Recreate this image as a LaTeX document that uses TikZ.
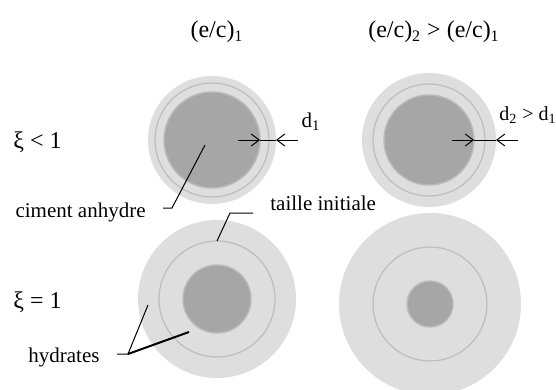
\documentclass[tikz,border=0pt]{standalone}
\usepackage{fontspec}
\setmainfont{Liberation Serif}
\usepackage{xcolor}
\usetikzlibrary{arrows.meta}
\definecolor{hydrgray}{HTML}{DEDEDE}
\definecolor{ringgray}{HTML}{BDBDBD}
\definecolor{coregray}{HTML}{A6A6A6}
\definecolor{coreedge}{HTML}{BABABA}

\begin{document}
\begin{tikzpicture}[
  x=0.5pt,y=-0.5pt,
  hull/.style={circle,fill=hydrgray,inner sep=0pt,outer sep=0pt},
  ring/.style={circle,draw=ringgray,line width=0.6pt,inner sep=0pt,outer sep=0pt},
  core/.style={circle,fill=coregray,draw=coreedge,line width=0.7pt,
               inner sep=0pt,outer sep=0pt},
  lbl/.style ={font=\fontsize{10.5}{12}\selectfont,inner sep=0pt},
  head/.style={font=\fontsize{12}{14}\selectfont,inner sep=0pt},
  lead/.style={line width=0.5pt},
  dim/.style ={-{Straight Barb[length=4pt,width=6pt]},line width=0.5pt}]
  \useasboundingbox (0,0) rectangle (556,390);
  \clip (0,0) rectangle (556,390);
  % grains, xi < 1
  \node[hull,minimum size=64pt] (tlhull) at (212,140) {};
  \node[ring,minimum size=57pt] (tlring) at (tlhull) {};
  \node[core,minimum size=48pt] (tlcore) at (tlhull) {};
  \node[hull,minimum size=67pt] (trhull) at (429,140) {};
  \node[ring,minimum size=56pt] (trring) at (trhull) {};
  \node[core,minimum size=45pt] (trcore) at (trhull) {};
  % grains, xi = 1
  \node[hull,minimum size=79pt] (blhull) at (217,299) {};
  \node[ring,minimum size=58pt] (blring) at (blhull) {};
  \node[core,minimum size=34pt] (blcore) at (blhull) {};
  \node[hull,minimum size=91pt] (brhull) at (430,304) {};
  \node[ring,minimum size=57pt] (brring) at (brhull) {};
  \node[core,minimum size=23pt] (brcore) at (brhull) {};
  % texts
  \node[head] (econe) at (217,32) {(e/c)\textsubscript{1}};
  \node[head] (ectwo) at (434,32) {(e/c)\textsubscript{2} > (e/c)\textsubscript{1}};
  \node[head,anchor=west] (xilt) at (13,142) {ξ < 1};
  \node[head,anchor=west] (xieq) at (13,302) {ξ = 1};
  \node[lbl] (done) at (311,122) {d\textsubscript{1}};
  \node[lbl,font=\fontsize{10}{12}\selectfont,anchor=west] (dtwo) at (499,115)
    {d\textsubscript{2} > d\textsubscript{1}};
  \node[lbl,anchor=east] (anhlbl) at (146,212) {ciment anhydre};
  \node[lbl,anchor=west] (taillbl) at (270,203) {taille initiale};
  \node[lbl,anchor=west] (hydlbl) at (28,357) {hydrates};
  % thickness arrows
  \draw[dim] ([xshift=-11pt]tlcore.east) -- (tlcore.east);
  \draw[lead] (tlcore.east) -- (tlhull.east);
  \draw[dim] ([xshift=11pt]tlhull.east) -- (tlhull.east);
  \draw[dim] ([xshift=-11pt]trcore.east) -- (trcore.east);
  \draw[lead] (trcore.east) -- (trhull.east);
  \draw[dim] ([xshift=11pt]trhull.east) -- (trhull.east);
  % leaders
  \coordinate (anhpt) at (205,145);
  \coordinate (anhkn) at (172,208);
  \coordinate (anhend) at (163,208);
  \draw[lead] (anhpt) -- (anhkn) -- (anhend);
  \coordinate (taikn) at (230,213);
  \coordinate (taiend) at (253,213);
  \draw[lead] (blring.north) -- (taikn) -- (taiend);
  \coordinate (hydkn) at (128,354);
  \coordinate (hydend) at (117,354);
  \coordinate (hydout) at (148,305);
  \coordinate (hydin) at (189,332);
  \draw[lead] (hydend) -- (hydkn) -- (hydout);
  \draw[line width=1pt] (hydkn) -- (hydin);
\end{tikzpicture}
\end{document}
